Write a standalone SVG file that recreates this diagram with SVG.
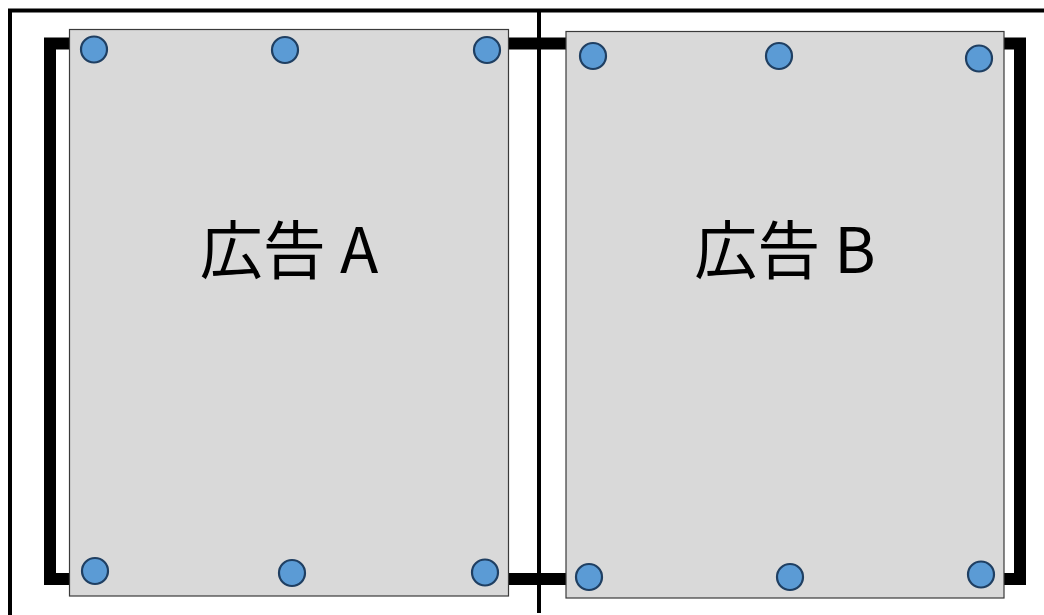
<svg xmlns="http://www.w3.org/2000/svg" width="1044" height="615" viewBox="0 0 1044 615">
<style>
.frame{fill:none;stroke:#000;stroke-width:4}
.bracket{fill:none;stroke:#000;stroke-width:12}
.panel{fill:#d9d9d9;stroke:#3a3a3a;stroke-width:1.2}
.bolt{fill:#5b9bd5;stroke:#1f3f62;stroke-width:2.2}
.lbl{font-family:"Noto Sans CJK JP","Noto Sans",sans-serif;font-size:63px;fill:#000;text-anchor:middle}
</style>
<rect width="1044" height="615" fill="#fff"/>
<g id="connectors">
<path class="frame" d="M10,615 V10.5 H1044"/>
<path class="frame" d="M539,10 V613" stroke-width="5"/>
<rect class="bracket" x="50" y="43.5" width="970" height="535.5"/>
</g>
<g id="adA">
<rect class="panel" x="69.5" y="29.5" width="439" height="566.5"/>
<circle class="bolt" cx="94" cy="49.5" r="13"/>
<circle class="bolt" cx="285" cy="50" r="13"/>
<circle class="bolt" cx="487" cy="50" r="13"/>
<circle class="bolt" cx="95" cy="571" r="13"/>
<circle class="bolt" cx="292" cy="573" r="13"/>
<circle class="bolt" cx="485" cy="572.5" r="13"/>
<text class="lbl" x="289" y="273">広告 A</text>
</g>
<g id="adB">
<rect class="panel" x="566" y="31.5" width="438" height="566.5"/>
<circle class="bolt" cx="593" cy="56" r="13"/>
<circle class="bolt" cx="779" cy="56" r="13"/>
<circle class="bolt" cx="979" cy="58.5" r="13"/>
<circle class="bolt" cx="589" cy="577" r="13"/>
<circle class="bolt" cx="790" cy="577" r="13"/>
<circle class="bolt" cx="981" cy="574.5" r="13"/>
<text class="lbl" x="785" y="273">広告 B</text>
</g>
</svg>
